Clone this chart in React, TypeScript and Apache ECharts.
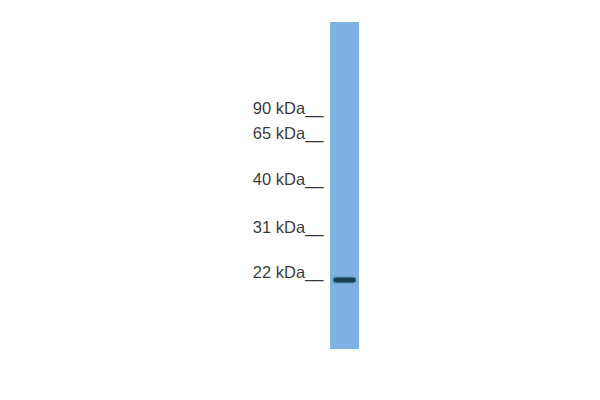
import React, { useEffect, useRef } from "react";
import * as echarts from "echarts";

// marker ladder: label text and relative migration down the lane (0 = top, 1 = bottom)
const markerLabels = ["90 kDa__", "65 kDa__", "40 kDa__", "31 kDa__", "22 kDa__"];
const markerRf = [0.262, 0.34, 0.481, 0.627, 0.765];

// detected band in the single sample lane
const bandRf = [0.789];
const laneNames = ["lane 1"];

const App: React.FC = () => {
  const chartRef = useRef<HTMLDivElement>(null);

  useEffect(() => {
    const chart = echarts.init(chartRef.current!, null, { renderer: "svg" });

    chart.setOption({
      animation: false,
      backgroundColor: "#ffffff",
      grid: { left: 330, top: 22, width: 29, height: 327 },
      xAxis: { type: "category", data: laneNames, show: false },
      yAxis: { type: "value", min: 0, max: 1, inverse: true, show: false },
      series: [
        {
          // the membrane strip
          type: "bar",
          data: laneNames.map(() => 1),
          barWidth: "100%",
          itemStyle: { color: "#7fb2e4" },
          silent: true,
        },
        {
          // ladder labels to the left of the lane
          type: "scatter",
          symbolSize: 0,
          data: markerRf.map((rf, i) => ({ name: markerLabels[i], value: [0, rf] })),
          label: {
            show: true,
            position: "left",
            distance: 21,
            formatter: (p: any) => p.name,
            color: "#000000",
            fontSize: 16.5,
            fontFamily: "Liberation Sans, Arial, sans-serif",
          },
        },
        {
          // the band
          type: "scatter",
          symbol: "roundRect",
          symbolSize: [22, 5],
          data: bandRf.map((rf) => [0, rf]),
          itemStyle: {
            color: "#08313c",
            shadowBlur: 3,
            shadowColor: "rgba(15, 70, 85, 0.8)",
          },
        },
      ],
    });

    return () => {
      chart.dispose();
    };
  }, []);

  return (
    <div
      ref={chartRef}
      style={{ position: "fixed", left: 0, top: 0, width: 600, height: 400 }}
    />
  );
};

export default App;
